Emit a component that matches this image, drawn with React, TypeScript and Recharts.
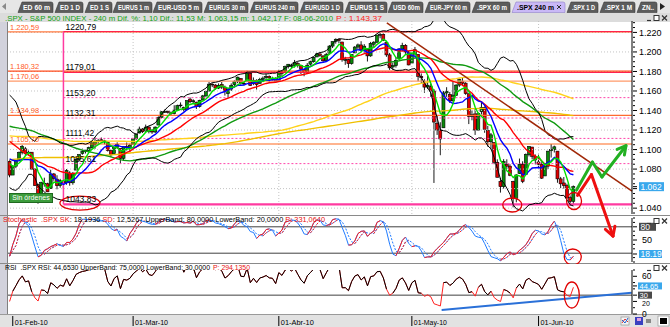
import React from 'react';
import { ComposedChart, Bar, Line, XAxis, YAxis, ReferenceLine, ReferenceDot } from 'recharts';

const FONT = '"Liberation Sans", Arial, sans-serif';

// daily closes Sep-09 .. 28-Jan-10, only used to warm up the long averages (each day = 2 bars)
const warmupDaily = [
  1003.2, 1016.4, 1025.4, 1033.4, 1044.1, 1042.7, 1049.3, 1052.6, 1068.8, 1065.5, 1068.3, 1064.7, 1071.7, 1060.9, 1050.8, 1044.4, 1063.0, 1060.6, 1057.1,
  1029.9, 1025.2, 1040.5, 1054.7, 1057.6, 1065.5, 1071.5, 1076.2, 1073.2, 1092.0, 1096.6, 1087.7, 1097.9, 1091.1, 1081.4, 1092.9, 1079.6, 1067.0, 1063.4, 1042.6, 1066.1, 1036.2,
  1042.9, 1045.4, 1046.5, 1066.6, 1069.3, 1093.1, 1093.0, 1098.5, 1087.2, 1093.5, 1109.3, 1110.3, 1109.8, 1094.9, 1091.4, 1106.2, 1105.7, 1110.6, 1091.5, 1095.6,
  1108.9, 1109.2, 1099.9, 1106.0, 1103.3, 1091.9, 1096.0, 1102.4, 1106.4, 1114.1, 1107.9, 1109.2, 1096.1, 1102.5, 1114.1, 1118.0, 1120.6, 1126.5, 1127.8, 1126.2, 1126.4, 1115.1,
  1133.0, 1136.5, 1137.1, 1141.7, 1145.0, 1147.0, 1136.2, 1145.7, 1148.5, 1136.0, 1150.2, 1138.0, 1116.5, 1091.8, 1096.8, 1092.2, 1097.5, 1084.5,
];
const warmupLastBar = 1088;

// 240 m bars, first one = 29-Jan-10 afternoon
const opens = [
  1088, 1073.9, 1083, 1090, 1097, 1100.7, 1096, 1097.3, 1080, 1064, 1050, 1065.5, 1065, 1060, 1075, 1069.7, 1063, 1067.1, 1066, 1076, 1066, 1079, 1090, 1096.1, 1098, 1099, 1102, 1105.5, 1108, 1110, 1109, 1107.5, 1099, 1095.9, 1102, 1101.2, 1091, 1103.1, 1102,
  1105.4, 1111, 1117, 1121, 1119.4, 1123, 1119.1, 1118, 1125.1, 1133, 1138.4, 1139, 1137.6, 1137, 1140.2, 1145, 1143, 1141, 1151.7, 1149, 1148.5, 1144, 1150.8, 1155, 1159.9, 1167, 1166.1, 1163, 1166.7, 1164, 1157.3, 1162, 1166.5, 1170, 1172.7, 1168, 1170, 1178, 1167.6, 1171, 1167.7, 1172, 1173.8, 1175, 1171.8, 1173,
  1171.2, 1180, 1178.7, 1185, 1186, 1186, 1188.2, 1186, 1181.8, 1180, 1187.5, 1190, 1194.9, 1198, 1195.9, 1191, 1198.7, 1206, 1210.8, 1213, 1210.2, 1192, 1192.1, 1188, 1199, 1205, 1207.2, 1202, 1202.5, 1196, 1207.9, 1210, 1217.1, 1218, 1209.9, 1197, 1184.6, 1186, 1193.3, 1203, 1206.8, 1200,
  1188.6, 1198, 1197.5, 1175, 1169.2, 1164, 1164.4, 1160, 1127, 1120, 1122.3, 1158, 1156.4, 1150, 1155.4, 1166, 1170, 1168, 1157.2, 1134, 1136.5, 1120, 1138.8, 1143, 1119.6, 1108, 1107.3, 1087, 1067.3, 1062, 1084.8, 1083, 1067.4, 1050, 1075.5, 1085, 1074.3, 1095, 1102.6, 1093,
  1087.3, 1085, 1073, 1083, 1098.8, 1100, 1098.4, 1070, 1065.8, 1063, 1050.8, 1047,
];
const highs = [
  1089, 1084, 1089.4, 1098, 1104.7, 1102.7, 1099, 1097.3, 1081, 1065, 1067.1, 1071.2, 1066, 1079.3, 1076, 1073.7, 1070, 1069, 1080, 1077.8, 1077, 1091, 1095, 1101, 1100.5, 1103, 1108.2, 1112.4, 1111, 1112.3, 1110, 1108.6, 1100, 1103, 1107.4, 1101.2, 1103.5, 1107.2, 1106,
  1112, 1116.1, 1123.5, 1122, 1125.6, 1124, 1121, 1123.7, 1134, 1139.4, 1141.1, 1140, 1139, 1145.4, 1146, 1148.3, 1144, 1150.2, 1153.4, 1151.5, 1149, 1151, 1156, 1160.3, 1169.2, 1168, 1167, 1167.8, 1169.2, 1165.5, 1163, 1167.8, 1171, 1174.7, 1173, 1170, 1180.7, 1179, 1173.9, 1172, 1173.5, 1174.9, 1177.8, 1176, 1174.6, 1174,
  1181.4, 1181, 1186, 1187.7, 1188, 1191.8, 1189.6, 1187, 1183, 1188.6, 1191, 1194.7, 1199.2, 1198.5, 1196.5, 1199, 1207, 1210.7, 1213.9, 1213.5, 1210.2, 1195, 1193, 1197.9, 1206, 1208.6, 1211, 1208, 1203, 1210.3, 1211, 1217.3, 1219.8, 1219, 1211.4, 1199, 1189, 1195, 1204, 1209.4, 1208, 1201,
  1199, 1205.1, 1197.5, 1178, 1172, 1176, 1167.6, 1162, 1135.1, 1128, 1160, 1163.9, 1159, 1170.5, 1167, 1172.6, 1173.6, 1169, 1157.2, 1140, 1141.9, 1138, 1148.7, 1144, 1124.3, 1117, 1107.3, 1090, 1071, 1090.2, 1090, 1085, 1068, 1074.8, 1090.8, 1088, 1096, 1103.5, 1102.6, 1095,
  1094.8, 1087, 1085, 1098.6, 1105.7, 1104, 1098.4, 1072, 1071.9, 1065, 1053, 1063.2,
];
const lows = [
  1071.6, 1073.9, 1081, 1087.9, 1095, 1094, 1094, 1079, 1062.8, 1044.5, 1048, 1062, 1056.5, 1060, 1068, 1059.3, 1061, 1060, 1064, 1063, 1064, 1079, 1088, 1094.7, 1096, 1097.7, 1101, 1100.8, 1106, 1107, 1105.4, 1098, 1092.2, 1095.9, 1101, 1086, 1089, 1099, 1097.6,
  1105.4, 1110, 1116.5, 1117, 1118, 1116.6, 1116.1, 1117, 1125.1, 1132, 1137.5, 1136.8, 1134.9, 1136, 1140.1, 1143, 1139, 1140, 1147.5, 1147, 1141.5, 1143, 1150.4, 1154, 1159.9, 1164, 1161.2, 1162, 1162, 1155.3, 1152.9, 1160, 1163.8, 1168, 1166.5, 1166, 1169, 1165.1, 1166, 1161.5, 1167.7, 1170, 1171, 1168.5, 1170.5, 1169.3,
  1170.7, 1175, 1178.7, 1183, 1182.8, 1184, 1184, 1177.3, 1175.1, 1178, 1186, 1189, 1194.7, 1195, 1188.8, 1190, 1198.7, 1204, 1208.5, 1209, 1190, 1186.8, 1183.7, 1187, 1199, 1203, 1200, 1198.9, 1190.2, 1195, 1205.1, 1209, 1214, 1211.1, 1195, 1181.6, 1181.8, 1184, 1193.3, 1201, 1198, 1186.3,
  1188.6, 1196, 1170, 1168.1, 1158.2, 1162, 1154, 1065.8, 1115, 1094.2, 1122.3, 1154, 1147.7, 1149, 1155.4, 1164, 1165, 1156.1, 1126.1, 1130, 1115, 1119, 1136, 1117.2, 1103, 1100.7, 1085, 1071.6, 1055.9, 1060, 1080, 1072.7, 1040.8, 1046, 1075, 1065.6, 1074.3, 1093, 1090, 1084.8,
  1081, 1069.9, 1072.9, 1080, 1091.8, 1097, 1066, 1060.5, 1060, 1050.3, 1042.2, 1043,
];
const closes = [
  1073.9, 1083, 1089.2, 1097, 1103.3, 1096, 1097.3, 1080, 1063.1, 1050, 1066.2, 1065, 1056.7, 1075, 1070.5, 1063, 1068.1, 1066, 1078.5, 1066, 1075.5, 1090, 1094.9, 1098, 1099.5, 1102, 1106.8, 1108, 1109.2, 1109, 1108, 1099, 1094.6, 1102, 1105.2, 1091, 1102.9, 1102, 1104.5,
  1111, 1115.7, 1121, 1118.3, 1123, 1118.8, 1118, 1123, 1133, 1138.7, 1139, 1138.5, 1137, 1140.4, 1145, 1145.6, 1141, 1150.2, 1149, 1150, 1144, 1150.5, 1155, 1159.5, 1167, 1166.2, 1163, 1165.8, 1164, 1159.9, 1162, 1165.8, 1170, 1174.2, 1168, 1167.7, 1178, 1165.7, 1171, 1166.6, 1172, 1173.2, 1175, 1173.3, 1173, 1169.4,
  1180, 1178.1, 1185, 1187.4, 1186, 1189.4, 1186, 1182.4, 1180, 1186.4, 1190, 1194.4, 1198, 1196.5, 1191, 1197.3, 1206, 1210.7, 1213, 1211.7, 1192, 1192.1, 1188, 1197.5, 1205, 1207.2, 1202, 1205.9, 1196, 1208.7, 1210, 1217.3, 1218, 1212.1, 1197, 1183.7, 1186, 1191.4, 1203, 1206.8, 1200, 1186.7,
  1198, 1202.3, 1175, 1173.6, 1164, 1165.9, 1160, 1128.2, 1120, 1110.9, 1158, 1159.7, 1150, 1155.8, 1166, 1171.7, 1168, 1157.4, 1134, 1135.7, 1120, 1136.9, 1143, 1120.8, 1108, 1115.1, 1087, 1071.6, 1062, 1087.7, 1083, 1073.7, 1050, 1074, 1085, 1067.4, 1095, 1103.1, 1093, 1089.4,
  1085, 1070.7, 1083, 1098.4, 1100, 1102.8, 1070, 1064.9, 1063, 1050.5, 1047, 1062,
];

const monthTicks = [1, 39, 85, 127, 167];
const monthLabels = ['01-Feb-10', '01-Mar-10', '01-Abr-10', '01-May-10', '01-Jun-10'];

const priceLabels = [1040, 1060, 1080, 1100, 1120, 1140, 1160, 1180, 1200, 1220];
const lastPrice = 1062;

const levelValues = [1220.59, 1180.32, 1170.06, 1134.98, 1105.7];
const levelLabels = ['1.220,59', '1.180,32', '1.170,06', '1.134,98', '1.105,70'];
const levelColors = ['#ff7a40', '#ff4a1a', '#ff9a6a', '#ff6a30', '#ff6a20'];

const fibValues = [1220.79, 1179.01, 1153.2, 1132.31, 1111.42, 1085.61, 1043.83];
const fibLabels = ['1220,79', '1179,01', '1153,20', '1132,31', '1111,42', '1085,61', '1043,83'];
const fibStart = 17;

// hand-drawn annotations, in [bar index, price] / [bar index, indicator value]
const trendLine = [[119.1, 1229.7], [196.5, 1057.5]];
const greenArrow = [[179, 1058.5], [184, 1087.2], [187, 1071.9], [194.3, 1102.6]];
const greenHead = [[191.8, 1100.1], [194.6, 1104], [194.1, 1094.5]];
const redArrow = [[179.3, 1053], [183.7, 1074.5], [190.5, 1011.4]];
const redHead = [[188.1, 1018.3], [190.5, 1011.4], [191.1, 1021.5]];
const priceCircles = [[22.2, 1045.2], [158.7, 1043.2], [178.2, 1047.3]];
const rsiTrend = [[136.4, 6.4], [196.4, 33.9]];

const tabLabels = ['ED 60 m', 'ED 1 D', 'ED 1 S', 'EURUS 1 m', 'EUR-USD 5 m', 'EURUS 30 m', 'EURUS 240 m', 'EURUSD 1 D', 'EURUS 1 S', 'USD 60m', 'EUR-JPY 60 m', '.SPX 60 m', '.SPX 240 m', '.SPX 1 D', '.SPX 1 M', 'ZN..'];
const tabX = [18, 55, 85, 113, 153, 204, 250, 300, 345, 388, 425, 472, 512, 567, 600, 637];
const tabW = [35, 28, 27, 39, 49, 44, 48, 43, 42, 35, 45, 38, 53, 31, 35, 20];
const activeTab = 12;

const SLOTS = 197;
const N = closes.length;
const RSI_N = 7;

const warm: number[] = [];
warmupDaily.forEach((c) => warm.push(c, c));
warm.push(warmupLastBar);
const allCloses = [...warm, ...closes];
const OFF = warm.length;

function sma(n: number, i: number) {
  let s = 0;
  for (let k = 0; k < n; k++) s += allCloses[OFF + i - k];
  return s / n;
}
function sd(n: number, i: number) {
  const m = sma(n, i);
  let s = 0;
  for (let k = 0; k < n; k++) s += (allCloses[OFF + i - k] - m) ** 2;
  return Math.sqrt(s / n);
}

// slow stochastic 14,3,3
const rawK = closes.map((c, i) => {
  const from = Math.max(0, i - 13);
  const hi = Math.max(...highs.slice(from, i + 1));
  const lo = Math.min(...lows.slice(from, i + 1));
  return hi === lo ? 50 : ((c - lo) / (hi - lo)) * 100;
});
const avg3 = (arr: number[], i: number) => {
  const part = arr.slice(Math.max(0, i - 2), i + 1);
  return part.reduce((a, b) => a + b, 0) / part.length;
};
const skArr = rawK.map((_, i) => avg3(rawK, i));
const sdArr = skArr.map((_, i) => avg3(skArr, i));

// RSI (Wilder)
const rsiAll: number[] = [];
{
  let g = 0;
  let l = 0;
  for (let k = 1; k < allCloses.length; k++) {
    const d = allCloses[k] - allCloses[k - 1];
    const up = Math.max(d, 0);
    const dn = Math.max(-d, 0);
    if (k <= RSI_N) {
      g += up / RSI_N;
      l += dn / RSI_N;
    } else {
      g = (g * (RSI_N - 1) + up) / RSI_N;
      l = (l * (RSI_N - 1) + dn) / RSI_N;
    }
    rsiAll[k] = l === 0 ? 100 : 100 - 100 / (1 + g / l);
  }
}
const rsiArr = closes.map((_, i) => rsiAll[OFF + i]);

function risingOnly(v: number[]) {
  return v.map((x, i) => {
    const rin = i > 0 && x > v[i - 1];
    const rout = i < v.length - 1 && v[i + 1] > x;
    return rin || rout ? x : null;
  });
}
const skUp = risingOnly(skArr);
const sdUp = risingOnly(sdArr);

const rows = Array.from({ length: SLOTS }, (_, i) => {
  if (i >= N) return { i };
  const m20 = sma(20, i);
  const s20 = sd(20, i);
  return {
    i,
    o: opens[i],
    h: highs[i],
    l: lows[i],
    c: closes[i],
    hl: [lows[i], highs[i]],
    ma5: sma(5, i),
    ma10: sma(10, i),
    ma20: m20,
    ma50: sma(50, i),
    ma100: sma(100, i),
    ma200: sma(200, i),
    bbUp: m20 + 2 * s20,
    bbDn: m20 - 2 * s20,
    sk: skArr[i],
    sd: sdArr[i],
    skUp: skUp[i],
    sdUp: sdUp[i],
    rsi: rsiArr[i],
    rsiHi: rsiArr[i] >= 30 ? rsiArr[i] : null,
  };
});

const fmtPrice = (v: number) => (v / 1000).toFixed(3);

const priceTicks: number[] = [];
for (let v = 1035; v <= 1230; v += 5) priceTicks.push(v);
priceTicks.push(lastPrice);

function PriceTick(props: any) {
  const { x, y, payload } = props;
  const v = payload.value as number;
  if (v === lastPrice) {
    return (
      <g>
        <line x1={x + 1} x2={x + 5} y1={y} y2={y} stroke="#000" />
        <rect x={x + 7} y={y - 4.5} width={25} height={9} fill="#3aa8ec" />
        <text x={x + 8.5} y={y + 3.2} fontSize={8.5} fill="#fff" fontFamily={FONT}>{fmtPrice(v)}</text>
      </g>
    );
  }
  const major = priceLabels.includes(v);
  return (
    <g>
      <line x1={x + 1} x2={x + (major ? 5 : 3)} y1={y} y2={y} stroke="#000" />
      {major && v !== 1060 && (
        <text x={x + 7} y={y + 3.2} fontSize={9} fill="#000" fontFamily={FONT}>{fmtPrice(v)}</text>
      )}
    </g>
  );
}

const stochTicks = [0, 10, 30, 40, 60, 70, 90, 100, 50, 80, 18.19];
function StochTick(props: any) {
  const { x, y, payload } = props;
  const v = payload.value as number;
  if (v === 80 || v === 18.19) {
    const dark = v === 80;
    return (
      <g>
        <line x1={x + 1} x2={x + 5} y1={y} y2={y} stroke="#000" />
        <rect x={x + 7} y={y - 4} width={dark ? 17 : 23} height={8} fill={dark ? '#4a4a4a' : '#3aa8ec'} />
        <text x={x + 8.5} y={y + 3} fontSize={8.5} fill="#fff" fontFamily={FONT}>{dark ? '80' : '18.19'}</text>
      </g>
    );
  }
  return (
    <g>
      <line x1={x + 1} x2={x + (v === 50 ? 5 : 3)} y1={y} y2={y} stroke="#000" />
      {v === 50 && <text x={x + 10} y={y + 3.2} fontSize={9} fill="#000" fontFamily={FONT}>50</text>}
    </g>
  );
}

const rsiTicks = [10, 40, 50, 70, 60, 20, 0, 30, 44.65];
function RsiTick(props: any) {
  const { x, y, payload } = props;
  const v = payload.value as number;
  if (v === 30 || v === 44.65) {
    const dark = v === 30;
    return (
      <g>
        <line x1={x + 1} x2={x + 5} y1={y} y2={y} stroke="#000" />
        <rect x={x + 6} y={y - 3.5} width={dark ? 14 : 24} height={7} fill={dark ? '#4a4a4a' : '#3aa8ec'} />
        <text x={x + 7.5} y={y + 2.8} fontSize={7.5} fill="#fff" fontFamily={FONT}>{dark ? '30' : '44.65'}</text>
      </g>
    );
  }
  const lab = v === 60 || v === 20 || v === 0;
  return (
    <g>
      <line x1={x + 1} x2={x + (lab ? 5 : 3)} y1={y} y2={y} stroke="#000" />
      {lab && <text x={x + 10} y={y + (v === 20 ? 4.5 : 3)} fontSize={v === 20 ? 7 : 8.5} fill="#000" fontFamily={FONT}>{v}</text>}
    </g>
  );
}

function DateTick(props: any) {
  const { x, y, payload } = props;
  const k = monthTicks.indexOf(payload.value);
  return (
    <g>
      <line x1={x} x2={x} y1={y + 2} y2={y + 12} stroke="#000" />
      <text x={x + 2} y={y + 10.5} fontSize={7.5} fill="#000" fontFamily={FONT} textLength={33} lengthAdjust="spacingAndGlyphs">
        {monthLabels[k]}
      </text>
    </g>
  );
}

function Candle(props: any) {
  const { x, y, width, height, payload } = props;
  if (!payload || payload.o == null) return <g />;
  const { o, h, l, c } = payload;
  const top = Math.min(y, y + height);
  const span = Math.abs(height);
  const py = (v: number) => top + ((h - v) / (h - l || 1)) * span;
  const cx = x + width / 2;
  const up = c >= o;
  const bTop = py(Math.max(o, c));
  const bBot = py(Math.min(o, c));
  return (
    <g>
      <line x1={cx} x2={cx} y1={top} y2={top + span} stroke="#000" strokeWidth={0.9} />
      <rect x={x} y={bTop} width={width} height={Math.max(0.8, bBot - bTop)} fill={up ? '#0a8a0a' : '#e00000'} stroke="#000" strokeWidth={0.6} />
    </g>
  );
}

const ellipse = (rx: number, ry: number) => (p: any) => (
  <ellipse cx={p.cx} cy={p.cy} rx={rx} ry={ry} fill="none" stroke="#e00000" strokeWidth={1.3} />
);

const seg = (a: number[], b: number[]) => [{ x: a[0], y: a[1] }, { x: b[0], y: b[1] }];

function pathLines(pts: number[][], color: string, w: number, key: string) {
  return pts.slice(1).map((p, k) => (
    <ReferenceLine key={key + k} segment={seg(pts[k], p)} stroke={color} strokeWidth={w} ifOverflow="visible" strokeLinecap="round" />
  ));
}

function WinButtons({ top }: { top: number }) {
  return (
    <svg style={{ position: 'absolute', left: 645, top }} width={24} height={8}>
      <line x1={2} x2={6} y1={6.5} y2={6.5} stroke="#333" strokeWidth={1.2} />
      <rect x={9} y={1.5} width={5} height={5} fill="#fff" stroke="#333" />
      <path d="M17,1.5 L22,6.5 M22,1.5 L17,6.5" stroke="#333" strokeWidth={1.2} />
    </svg>
  );
}

const xAxisProps = {
  dataKey: 'i',
  type: 'number' as const,
  domain: [-0.5, SLOTS - 0.5],
  allowDataOverflow: true,
};

export default function App() {
  return (
    <div style={{ position: 'fixed', left: 0, top: 0, width: 670, height: 327, background: '#fff', overflow: 'hidden' }}>
      {/* tab strip */}
      <svg style={{ position: 'absolute', left: 0, top: 0 }} width={670} height={13}>
        <rect x={0} y={0} width={670} height={13} fill="#e6e6e6" />
        <path d="M6,3 L2,6.5 L6,10 Z" fill="#8a8a8a" />
        {tabLabels.map((t, k) => {
          const x = tabX[k];
          const w = tabW[k];
          const act = k === activeTab;
          return (
            <g key={t}>
              <path d={`M${x},12.5 L${x + 4},2 L${x + w - 2},2 Q${x + w},2 ${x + w},4 L${x + w},12.5 Z`} fill={act ? '#c9b8f6' : '#5c5c5c'} stroke={act ? '#8f80c8' : '#3a3a3a'} strokeWidth={0.6} />
              <text x={x + 5} y={10} fontSize={6.5} fontWeight="bold" fontFamily={FONT} fill={act ? '#000' : '#fff'} textLength={w - (act ? 16 : 8)} lengthAdjust="spacingAndGlyphs">{t}</text>
              {act && <path d={`M${x + w - 8},5 L${x + w - 4},9 M${x + w - 4},5 L${x + w - 8},9`} stroke="#333" strokeWidth={1} />}
            </g>
          );
        })}
        <path d="M660,3 L665,6.5 L660,10 Z" fill="#222" />
      </svg>

      {/* title row */}
      <svg style={{ position: 'absolute', left: 0, top: 13 }} width={670} height={9}>
        <rect x={0} y={0} width={670} height={9} fill="#dcdcdc" />
        <text x={5} y={7.5} fontSize={7} fontFamily={FONT} fill="#10a010" textLength={328} lengthAdjust="spacingAndGlyphs">
          .SPX - S&amp;P 500 INDEX - 240 m Dif. %: 1,10 Dif.: 11,53 M: 1.063,15 m: 1.042,17 F: 08-06-2010
        </text>
        <text x={336} y={7.5} fontSize={7} fontFamily={FONT} fill="#ff2020" textLength={46} lengthAdjust="spacingAndGlyphs">P : 1.143,37</text>
      </svg>
      <WinButtons top={14} />

      {/* frame */}
      <div style={{ position: 'absolute', left: 0, top: 22, width: 7, height: 292, background: '#d2d2dc' }} />
      <div style={{ position: 'absolute', left: 7, top: 22, width: 1, height: 292, background: '#808080' }} />
      <div style={{ position: 'absolute', left: 0, top: 215, width: 670, height: 1, background: '#8a8a8a' }} />
      <div style={{ position: 'absolute', left: 0, top: 263, width: 670, height: 1, background: '#8a8a8a' }} />
      <div style={{ position: 'absolute', left: 0, top: 314, width: 670, height: 13, background: '#e2e2e2', borderTop: '1px solid #9a9a9a', boxSizing: 'border-box' }} />

      {/* stochastic */}
      <div style={{ position: 'absolute', left: 0, top: 216 }}>
        <ComposedChart width={670} height={48} data={rows} margin={{ top: 2, right: 0, bottom: 2, left: 8 }}>
          <XAxis {...xAxisProps} hide />
          <YAxis orientation="right" width={38} domain={[0, 100]} allowDataOverflow ticks={stochTicks} interval={0} tick={(p: any) => <StochTick {...p} />} tickLine={false} tickSize={0} tickMargin={0} axisLine={{ stroke: '#000' }} />
          <ReferenceLine y={80} stroke="#404040" />
          <ReferenceLine y={20} stroke="#404040" />
          <Line dataKey="sd" stroke="#1f7bff" strokeDasharray="2 1.5" strokeWidth={1} dot={false} isAnimationActive={false} />
          <Line dataKey="sdUp" stroke="#ff2020" strokeDasharray="2 1.5" strokeWidth={1} dot={false} isAnimationActive={false} />
          <Line dataKey="sk" stroke="#1f7bff" strokeWidth={1} dot={false} isAnimationActive={false} />
          <Line dataKey="skUp" stroke="#ff2020" strokeWidth={1} dot={false} isAnimationActive={false} />
          <ReferenceDot x={177.8} y={11.4} r={8} shape={ellipse(8.5, 8)} ifOverflow="visible" />
        </ComposedChart>
      </div>
      <svg style={{ position: 'absolute', left: 0, top: 215 }} width={340} height={8}>
        <text x={3} y={6.5} fontSize={7} fontFamily={FONT} fill="#000" textLength={322} lengthAdjust="spacingAndGlyphs">
          <tspan fill="#e81010">Stochastic_.SPX</tspan> <tspan fill="#e81010">SK</tspan>: 18,1936 <tspan fill="#e81010">SD</tspan>: 12,5267 UpperBand: 80,0000 LowerBand: 20,0000 <tspan fill="#e81010">P: 331,0640</tspan>
        </text>
      </svg>
      <WinButtons top={217} />

      {/* RSI */}
      <div style={{ position: 'absolute', left: 0, top: 264 }}>
        <ComposedChart width={670} height={63} data={rows} margin={{ top: 6, right: 0, bottom: 0, left: 8 }}>
          <XAxis {...xAxisProps} ticks={monthTicks} interval={0} tick={(p: any) => <DateTick {...p} />} tickLine={false} axisLine={false} height={13} tickSize={0} tickMargin={0} />
          <YAxis orientation="right" width={38} domain={[0, 70]} allowDataOverflow ticks={rsiTicks} interval={0} tick={(p: any) => <RsiTick {...p} />} tickLine={false} tickSize={0} tickMargin={0} axisLine={{ stroke: '#000' }} />
          <ReferenceLine y={30} stroke="#404040" />
          <Line dataKey="rsi" stroke="#ff2020" strokeWidth={1} dot={false} isAnimationActive={false} />
          <Line dataKey="rsiHi" stroke="#000" strokeWidth={1} dot={false} isAnimationActive={false} />
          <ReferenceLine segment={seg(rsiTrend[0], rsiTrend[1])} stroke="#2a70d8" strokeWidth={2} ifOverflow="visible" />
          <ReferenceDot x={177.5} y={30.2} r={8} shape={ellipse(7.5, 13)} ifOverflow="visible" />
        </ComposedChart>
      </div>
      <svg style={{ position: 'absolute', left: 0, top: 263 }} width={260} height={8}>
        <text x={5} y={6.5} fontSize={7} fontFamily={FONT} fill="#000" textLength={205} lengthAdjust="spacingAndGlyphs">
          RSI_.SPX RSI: 44,6530 UpperBand: 75,0000 LowerBand: 30,0000
        </text>
        <text x={213} y={6.5} fontSize={7} fontFamily={FONT} fill="#e81010" textLength={37} lengthAdjust="spacingAndGlyphs">P: 294,1350</text>
      </svg>
      <WinButtons top={264} />

      {/* bottom icons */}
      <svg style={{ position: 'absolute', left: 618, top: 315 }} width={52} height={12}>
        <rect x={3} y={2} width={8} height={8} fill="#f4f4f4" stroke="#888" strokeWidth={0.6} />
        <path d="M4,8 L7,4 L10,7" stroke="#e03030" fill="none" />
        <path d="M4,5 L7,8 L10,3" stroke="#2060d0" fill="none" />
        <rect x={17} y={2} width={8} height={8} fill="#3a40c0" />
        <rect x={19} y={3} width={4} height={3} fill="#e0a0e0" />
        <rect x={28} y={4} width={5} height={4} fill="#888" />
        <rect x={40} y={1} width={11} height={10} fill="#fff" stroke="#888" strokeWidth={0.6} />
        <rect x={42} y={3} width={7} height={6} fill="#000" />
      </svg>

      {/* main price panel, drawn last so the arrows sit over the lower panel */}
      <div style={{ position: 'absolute', left: 0, top: 21 }}>
        <ComposedChart width={670} height={222} data={rows} margin={{ top: 0, right: 0, bottom: 29, left: 8 }}>
          <XAxis {...xAxisProps} hide />
          <YAxis orientation="right" width={38} domain={[1034, 1231.7]} allowDataOverflow ticks={priceTicks} interval={0} tick={(p: any) => <PriceTick {...p} />} tickLine={false} tickSize={0} tickMargin={0} axisLine={{ stroke: '#000' }} />
          {priceLabels.map((v) => (
            <ReferenceLine key={'gy' + v} y={v} stroke="#c4c4c4" strokeDasharray="1 2" />
          ))}
          {monthTicks.slice(1).map((m) => (
            <ReferenceLine key={'gx' + m} x={m} stroke="#c4c4c4" strokeDasharray="1 2" />
          ))}
          {levelValues.map((v, k) => (
            <ReferenceLine key={'lv' + k} y={v} stroke={levelColors[k]} strokeWidth={1.2}
              label={{ value: levelLabels[k], position: 'insideBottomLeft', offset: 2, fill: '#ff5a1e', fontSize: 7.5, fontFamily: FONT }} />
          ))}
          {fibValues.map((v, k) => (
            <ReferenceLine key={'fb' + k} segment={[{ x: fibStart, y: v }, { x: SLOTS - 0.5, y: v }]}
              stroke={k === 6 ? '#ff3aa0' : k < 2 ? '#ff1040' : '#ff44aa'} strokeWidth={k === 6 ? 2.2 : 1}
              strokeDasharray={k > 1 && k < 6 ? '2 2' : undefined}
              label={{ value: fibLabels[k], position: 'insideBottomLeft', offset: 2, fill: '#000', fontSize: 8.5, fontFamily: FONT }} />
          ))}
          <ReferenceLine segment={[{ x: fibStart, y: fibValues[0] }, { x: fibStart, y: fibValues[6] }]} stroke="#ff3aa0" strokeWidth={1.5} />

          <Line dataKey="ma200" stroke="#f0c000" strokeWidth={1.4} dot={false} isAnimationActive={false} />
          <Line dataKey="ma100" stroke="#ffd21a" strokeWidth={1.4} dot={false} isAnimationActive={false} />
          <Line dataKey="ma50" stroke="#109a10" strokeWidth={1.4} dot={false} isAnimationActive={false} />
          <Line dataKey="bbUp" stroke="#000" strokeWidth={1} dot={false} isAnimationActive={false} />
          <Line dataKey="bbDn" stroke="#000" strokeWidth={1} dot={false} isAnimationActive={false} />
          <Line dataKey="ma20" stroke="#ff0000" strokeWidth={1.4} dot={false} isAnimationActive={false} />
          <Line dataKey="ma10" stroke="#0000ff" strokeWidth={1.4} dot={false} isAnimationActive={false} />
          <Line dataKey="ma5" stroke="#00e000" strokeWidth={1.4} dot={false} isAnimationActive={false} />
          <Bar dataKey="hl" barSize={3} isAnimationActive={false} shape={(p: any) => <Candle {...p} />} />

          <ReferenceLine segment={seg(trendLine[0], trendLine[1])} stroke="#a02808" strokeWidth={1.5} ifOverflow="visible" />
          {pathLines(greenArrow, '#22b022', 3, 'ga')}
          {pathLines(greenHead, '#22b022', 3, 'gh')}
          {pathLines(redArrow, '#ee1010', 3, 'ra')}
          {pathLines(redHead, '#ee1010', 3, 'rh')}
          <ReferenceDot x={priceCircles[0][0]} y={priceCircles[0][1]} r={8} shape={ellipse(20, 7)} ifOverflow="visible" />
          <ReferenceDot x={priceCircles[1][0]} y={priceCircles[1][1]} r={8} shape={ellipse(9.5, 7)} ifOverflow="visible" />
          <ReferenceDot x={priceCircles[2][0]} y={priceCircles[2][1]} r={8} shape={ellipse(7.5, 8.5)} ifOverflow="visible" />
        </ComposedChart>
      </div>

      <div style={{ position: 'absolute', left: 9, top: 193, width: 44, height: 10, background: '#3c9c3c', border: '1px solid #1f6a1f', boxSizing: 'border-box', color: '#fff', fontFamily: FONT, fontSize: 7, lineHeight: '8px', textAlign: 'center', whiteSpace: 'nowrap', overflow: 'hidden' }}>
        Sin órdenes
      </div>
    </div>
  );
}
